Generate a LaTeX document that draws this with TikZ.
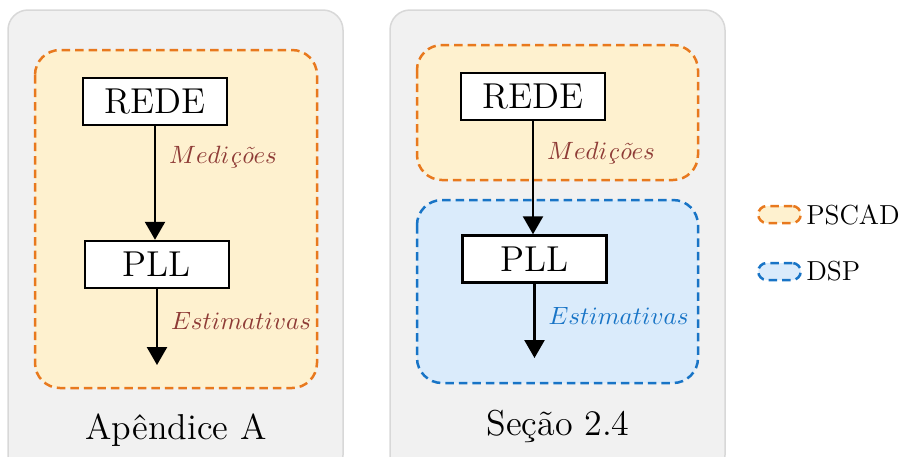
\documentclass[tikz,border=0pt]{standalone}
\usepackage{amsmath}
\usetikzlibrary{arrows.meta}
\definecolor{pscadline}{HTML}{E8791E}
\definecolor{pscadfill}{HTML}{FEF1CF}
\definecolor{dspline}{HTML}{1874C6}
\definecolor{dspfill}{HTML}{DAEBFB}
\definecolor{panelfill}{HTML}{F1F1F1}
\definecolor{panelline}{HTML}{D8D8D8}
\definecolor{medcolor}{HTML}{8E3B36}

\begin{document}
\begin{tikzpicture}[x=0.4pt, y=-0.4pt,
  panel/.style={fill=panelfill, draw=panelline, line width=0.6pt, rounded corners=8pt},
  pscad/.style={fill=pscadfill, draw=pscadline, line width=1pt, dash pattern=on 3.4pt off 2pt, rounded corners=10pt},
  dsp/.style={fill=dspfill, draw=dspline, line width=1pt, dash pattern=on 3.4pt off 2pt, rounded corners=10pt},
  bloco/.style={draw, fill=white, line width=1pt, minimum width=57.6pt, minimum height=18.8pt, font=\Large},
  seta/.style={-{Triangle[length=7.2pt,width=8pt]}, line width=1pt},
  rotulo/.style={right, xshift=1.8pt, font=\normalsize}
]
\useasboundingbox (0,0) rectangle (901,456);

% painel da esquerda
\path [panel] (8,10) rectangle (343,475);
\path [pscad] (35,50) rectangle (317,388);
\node [bloco] (rede1) at (155,101.5) {REDE};
\node [bloco] (pll1) at (157,264.5) {PLL};
\coordinate (fim1) at (157,365);
\draw [seta] (rede1.south) -- (rede1.south |- pll1.north) node [rotulo, pos=0.27, text=medcolor] {$Medi\textit{ç}\textit{õ}es$};
\draw [seta] (pll1.south) -- (fim1) node [rotulo, pos=0.42, text=medcolor] {$Estimativas$};
\node [font=\Large] (titulo1) at (176,430) {Apêndice A};

% painel da direita
\path [panel] (390,10) rectangle (725,475);
\path [pscad] (417,45) rectangle (698,180);
\path [dsp] (417,200) rectangle (698,383);
\node [bloco] (rede2) at (533,96.5) {REDE};
\node [bloco] (pll2) at (534.5,259) {PLL};
\coordinate (fim2) at (534.5,358);
\draw [seta] (rede2.south) -- (rede2.south |- pll2.north) node [rotulo, pos=0.28, text=medcolor] {$Medi\textit{ç}\textit{õ}es$};
\draw [seta] (pll2.south) -- (fim2) node [rotulo, pos=0.43, text=dspline] {$Estimativas$};
\node [font=\Large] (titulo2) at (558,426) {Seção 2.4};

% legenda
\node [pscad, rounded corners=3.4pt, minimum width=17pt, minimum height=6.8pt, inner sep=0pt] (legpscad) at (779.5,214.5) {};
\node [right, inner sep=1.5pt, font=\fontsize{11}{13}\selectfont] (txtpscad) at (legpscad.east) {PSCAD};
\node [dsp, rounded corners=3.4pt, minimum width=17pt, minimum height=6.8pt, inner sep=0pt] (legdsp) at (779.5,271.5) {};
\node [right, inner sep=1.5pt, font=\fontsize{11}{13}\selectfont] (txtdsp) at (legdsp.east) {DSP};
\end{tikzpicture}
\end{document}
